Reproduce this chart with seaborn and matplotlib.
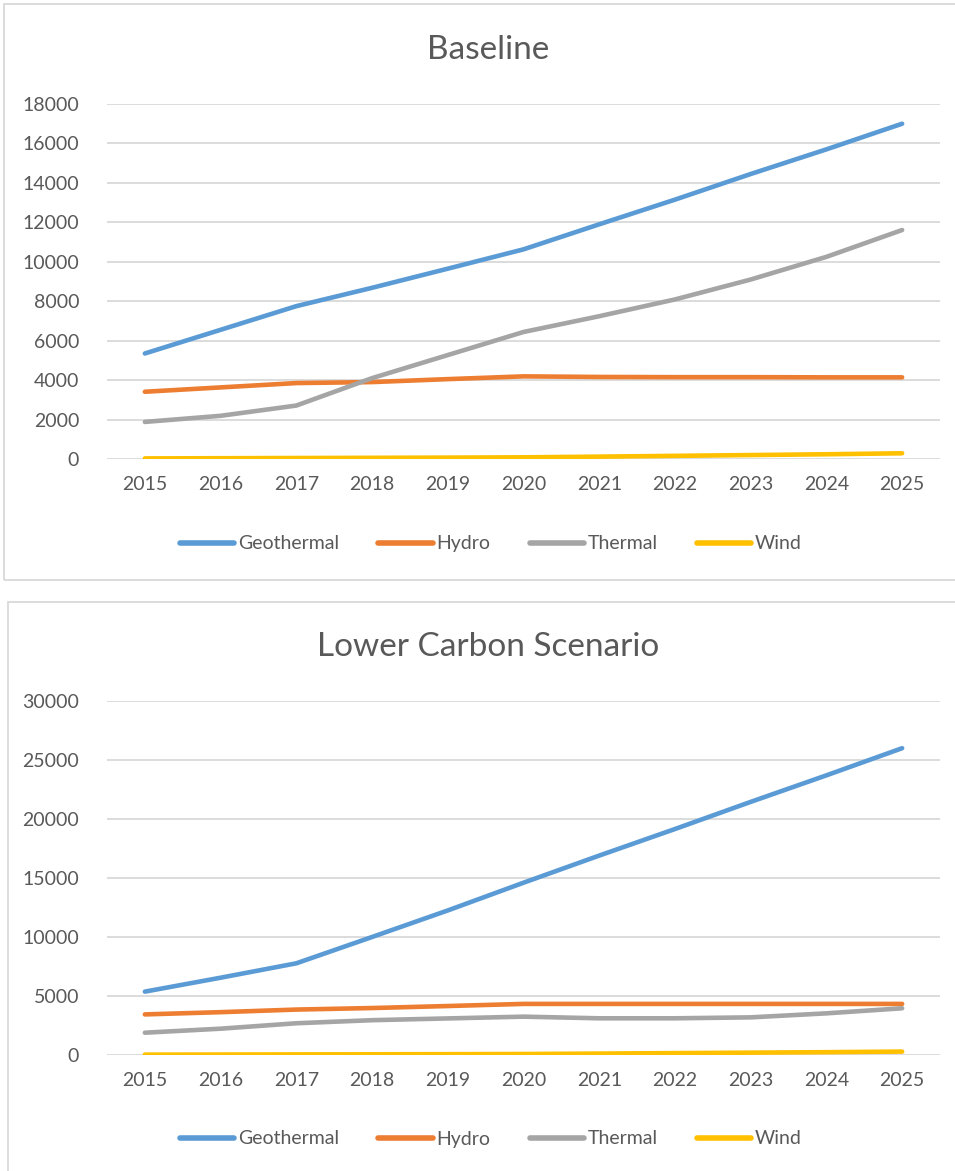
import pandas as pd
import matplotlib.pyplot as plt
import seaborn as sns
from matplotlib.patches import Rectangle

years = [2015, 2016, 2017, 2018, 2019, 2020, 2021, 2022, 2023, 2024, 2025]
sources = ["Geothermal", "Hydro", "Thermal", "Wind"]

# Baseline scenario
base_geothermal = [5350, 6550, 7750, 8680, 9650, 10630, 11900, 13150, 14450, 15700, 17000]
base_hydro = [3410, 3630, 3850, 3900, 4050, 4190, 4160, 4150, 4150, 4140, 4140]
base_thermal = [1880, 2190, 2710, 4100, 5270, 6440, 7240, 8090, 9100, 10250, 11610]
base_wind = [30, 40, 50, 60, 70, 85, 120, 160, 200, 240, 290]

# Lower carbon scenario
low_geothermal = [5370, 6550, 7770, 10000, 12250, 14600, 16900, 19150, 21450, 23700, 26000]
low_hydro = [3440, 3630, 3850, 3980, 4150, 4330, 4330, 4330, 4330, 4330, 4330]
low_thermal = [1890, 2230, 2690, 2950, 3100, 3250, 3110, 3110, 3190, 3530, 3960]
low_wind = [30, 40, 50, 60, 70, 85, 120, 160, 200, 240, 290]

colors = {"Geothermal": "#5B9BD5", "Hydro": "#ED7D31", "Thermal": "#A5A5A5", "Wind": "#FFC000"}
text_col = "#595959"


def to_long(series):
    rows = []
    for name, vals in zip(sources, series):
        for y, v in zip(years, vals):
            rows.append({"Year": y, "Source": name, "Value": v})
    return pd.DataFrame(rows)


sns.set_theme(style="white")
plt.rcParams["font.family"] = ["Lato", "DejaVu Sans"]

W, H = 955, 1171
fig = plt.figure(figsize=(W / 100, H / 100), dpi=100)

# chart panel borders
for (x0, y0, x1, y1) in [(4, 4, 958, 580), (8, 602, 958, 1175)]:
    fig.patches.append(Rectangle((x0 / W, 1 - y1 / H), (x1 - x0) / W, (y1 - y0) / H,
                                 transform=fig.transFigure, fill=False,
                                 edgecolor="#D9D9D9", linewidth=1.3))


def draw(top, bottom, title, title_y, df, ymax, step, legend_y):
    ax = fig.add_axes([107 / W, 1 - bottom / H, 833 / W, (bottom - top) / H])
    sns.lineplot(data=df, x="Year", y="Value", hue="Source", palette=colors,
                 linewidth=3.3, ax=ax, legend=False, solid_capstyle="round")
    ax.set_xlim(2014.5, 2025.5)
    ax.set_ylim(0, ymax)
    ax.set_xticks(years)
    ax.set_yticks(range(0, ymax + 1, step))
    ax.set_xlabel("")
    ax.set_ylabel("")
    ax.grid(axis="y", color="#D9D9D9", linewidth=1.3)
    ax.set_axisbelow(True)
    for s in ax.spines.values():
        s.set_visible(False)
    ax.tick_params(axis="both", length=0, labelsize=14, labelcolor=text_col)
    ax.tick_params(axis="y", pad=20)
    ax.tick_params(axis="x", pad=12)
    fig.text(488 / W, 1 - title_y / H, title, ha="center", va="center",
             fontsize=24, color=text_col)
    handles = [plt.Line2D([0], [0], color=colors[s], linewidth=4, solid_capstyle="round")
               for s in sources]
    fig.legend(handles, sources, loc="center", bbox_to_anchor=(491 / W, 1 - legend_y / H),
               ncol=4, frameon=False, fontsize=14, labelcolor=text_col,
               handlelength=2.8, handletextpad=0.2, columnspacing=2.0)
    return ax


draw(104, 459, "Baseline", 50,
     to_long([base_geothermal, base_hydro, base_thermal, base_wind]), 18000, 2000, 544)
draw(701, 1055, "Lower Carbon Scenario", 647,
     to_long([low_geothermal, low_hydro, low_thermal, low_wind]), 30000, 5000, 1139)

fig.savefig("out.png", dpi=100)
